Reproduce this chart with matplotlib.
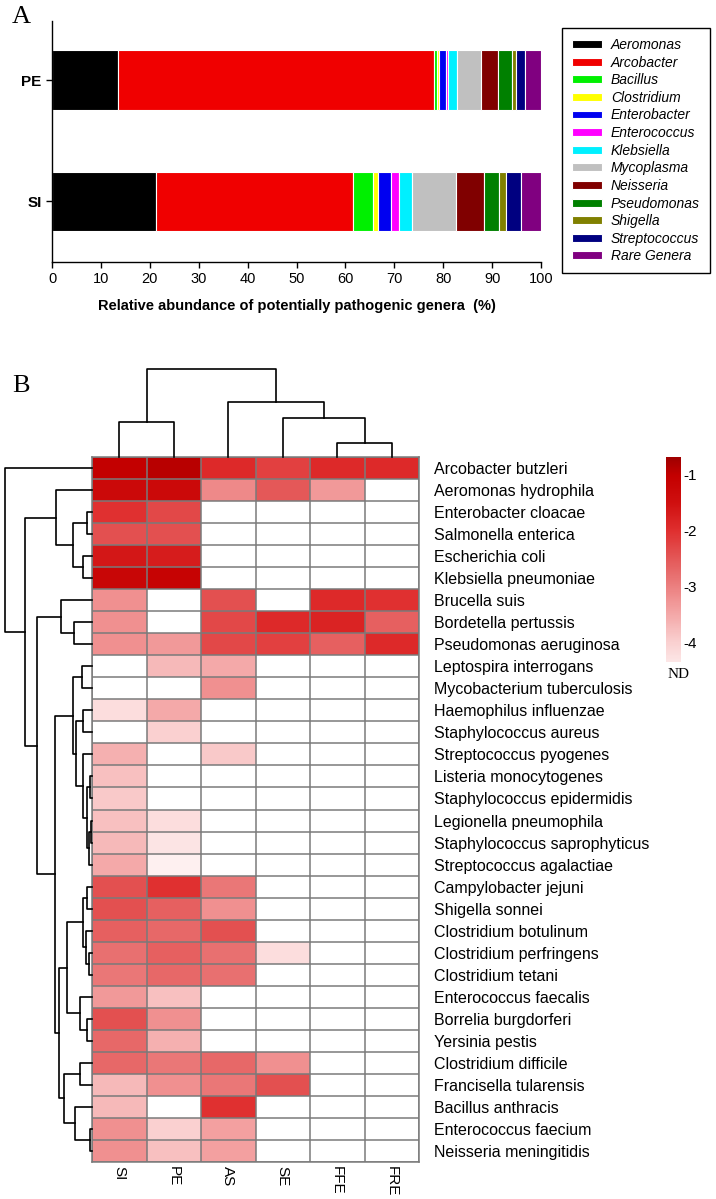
import numpy as np
import matplotlib
matplotlib.use('Agg')
import matplotlib.pyplot as plt
from matplotlib.colors import LinearSegmentedColormap, Normalize

plt.rcParams['font.family'] = ['Liberation Sans', 'DejaVu Sans']

W, H = 716, 1199

# ---------------- panel A data ----------------
genera = ['Aeromonas', 'Arcobacter', 'Bacillus', 'Clostridium', 'Enterobacter',
          'Enterococcus', 'Klebsiella', 'Mycoplasma', 'Neisseria', 'Pseudomonas',
          'Shigella', 'Streptococcus', 'Rare Genera']
pe_pct = [13.4, 64.8, 0.5, 0.4, 1.5, 0.3, 2.0, 4.9, 3.5, 2.7, 0.8, 2.0, 3.2]
si_pct = [21.3, 40.3, 4.0, 1.0, 2.7, 1.6, 2.8, 9.0, 5.6, 3.1, 1.5, 3.0, 4.1]
genus_colors = ['#000000', '#F00000', '#00F000', '#FFFF00', '#0000F0', '#FF00FF',
                '#00F0FF', '#C0C0C0', '#800000', '#008000', '#808000', '#000080',
                '#800080']

# ---------------- panel B data ----------------
samples = ['SI', 'PE', 'AS', 'SE', 'FFE', 'FRE']
species = ['Arcobacter butzleri', 'Aeromonas hydrophila', 'Enterobacter cloacae',
           'Salmonella enterica', 'Escherichia coli', 'Klebsiella pneumoniae',
           'Brucella suis', 'Bordetella pertussis', 'Pseudomonas aeruginosa',
           'Leptospira interrogans', 'Mycobacterium tuberculosis',
           'Haemophilus influenzae', 'Staphylococcus aureus', 'Streptococcus pyogenes',
           'Listeria monocytogenes', 'Staphylococcus epidermidis',
           'Legionella pneumophila', 'Staphylococcus saprophyticus',
           'Streptococcus agalactiae', 'Campylobacter jejuni', 'Shigella sonnei',
           'Clostridium botulinum', 'Clostridium perfringens', 'Clostridium tetani',
           'Enterococcus faecalis', 'Borrelia burgdorferi', 'Yersinia pestis',
           'Clostridium difficile', 'Francisella tularensis', 'Bacillus anthracis',
           'Enterococcus faecium', 'Neisseria meningitidis']

ND = np.nan
# log10 relative abundance per sample (ND = not detected)
si_log = [-1.0, -1.3, -2.0, -2.4, -1.6, -1.2, -3.2, -3.2, -3.2, ND, ND, -4.2, ND, -3.6,
          -3.8, -3.9, -3.8, -3.7, -3.5, -2.4, -2.4, -2.6, -2.8, -2.9, -3.3, -2.4, -2.7,
          -2.7, -3.7, -3.7, -3.2, -3.2]
pe_log = [-0.9, -1.3, -2.3, -2.4, -1.7, -1.1, ND, ND, -3.3, -3.7, ND, -3.5, -4.0, ND,
          ND, ND, -4.2, -4.3, -4.5, -2.0, -2.6, -2.7, -2.6, -2.7, -3.8, -3.2, -3.6,
          -2.9, -3.2, ND, -4.0, -3.8]
as_log = [-1.9, -3.1, ND, ND, ND, ND, -2.4, -2.3, -2.3, -3.5, -3.2, ND, ND, -3.9,
          ND, ND, ND, ND, ND, -2.9, -3.2, -2.4, -2.8, -2.8, ND, ND, ND,
          -2.7, -2.9, -2.0, -3.4, -3.4]
se_log = [-2.2, -2.5, ND, ND, ND, ND, ND, -1.9, -2.2, ND, ND, ND, ND, ND,
          ND, ND, ND, ND, ND, ND, ND, ND, -4.2, ND, ND, ND, ND,
          -3.2, -2.4, ND, ND, ND]
ffe_log = [-1.9, -3.3, ND, ND, ND, ND, -1.9, -1.8, -2.6] + [ND] * 23
fre_log = [-1.9, ND, ND, ND, ND, ND, -2.0, -2.6, -1.9] + [ND] * 23

# dendrogram merges: (left, right, height); ids >= n are earlier merges
col_merges = [(4, 5, 14), (3, 6, 39), (2, 7, 55), (0, 1, 35), (9, 8, 88)]
row_merges = [(2, 3, 5), (4, 5, 9), (32, 33, 19), (1, 34, 36),
              (7, 8, 18), (6, 36, 31),
              (9, 10, 10), (11, 12, 9), (14, 15, 2), (16, 17, 1.5), (41, 18, 3),
              (40, 42, 5), (13, 43, 9), (39, 44, 16), (38, 45, 19),
              (19, 20, 4.7), (22, 23, 3), (21, 48, 6), (47, 49, 8.7), (25, 26, 4.7),
              (24, 51, 12), (50, 52, 25.3), (27, 28, 12), (30, 31, 2), (29, 55, 17),
              (54, 56, 27.7), (53, 57, 32.7), (46, 58, 37), (37, 59, 55),
              (35, 60, 67), (0, 61, 87)]


def box(x0, y0, x1, y1):
    return [x0 / W, 1 - y1 / H, (x1 - x0) / W, (y1 - y0) / H]


def draw_dendro(ax, merges, n, sideways=False):
    pos = {i: i + 0.5 for i in range(n)}
    hgt = {i: 0.0 for i in range(n)}
    for k, (a, b, h) in enumerate(merges):
        xs = [pos[a], pos[a], pos[b], pos[b]]
        ys = [hgt[a], h, h, hgt[b]]
        if sideways:
            xs, ys = ys, xs
        ax.plot(xs, ys, color='black', lw=1.2, clip_on=False)
        pos[n + k] = (pos[a] + pos[b]) / 2
        hgt[n + k] = h


fig = plt.figure(figsize=(W / 100, H / 100), dpi=100)

# ---------------- A: stacked bars ----------------
axA = fig.add_axes(box(52, 20.7, 541, 262))
left_pe, left_si = 0.0, 0.0
for name, pe, si, c in zip(genera, pe_pct, si_pct, genus_colors):
    axA.barh([1, 0], [pe, si], left=[left_pe, left_si], height=0.49, color=c,
             edgecolor='white', linewidth=0.8, label=name)
    left_pe += pe
    left_si += si
axA.set_xlim(0, 100)
axA.set_ylim(-0.5, 1.49)
axA.set_xticks(range(0, 101, 10))
axA.set_yticks([1, 0])
axA.set_yticklabels(['PE', 'SI'], fontweight='bold', fontsize=11)
axA.tick_params(axis='x', labelsize=10.5, length=4, width=1)
axA.tick_params(axis='y', length=4, width=1)
for s in ['top', 'right']:
    axA.spines[s].set_visible(False)
for s in ['left', 'bottom']:
    axA.spines[s].set_linewidth(1)
axA.set_xlabel('Relative abundance of potentially pathogenic genera  (%)',
               fontweight='bold', fontsize=10.5, labelpad=9)
leg = axA.legend(loc='upper left', bbox_to_anchor=(562 / W, 1 - 28 / H),
                 bbox_transform=fig.transFigure, borderaxespad=0,
                 prop={'style': 'italic', 'size': 10}, fancybox=False,
                 edgecolor='black', framealpha=1, handlelength=2.15,
                 handleheight=0.5, labelspacing=0.26, borderpad=0.72,
                 handletextpad=0.65)
leg.get_frame().set_linewidth(1)

fig.text(12 / W, 1 - 6 / H, 'A', family='Liberation Serif', fontsize=19, va='top')
fig.text(12 / W, 1 - 375 / H, 'B', family='Liberation Serif', fontsize=19, va='top')

# ---------------- B: heatmap ----------------
vmin, vmax = -4.6, -0.68
stops = [(-4.6, '#FFF6F6'), (-4.5, '#FEF0F0'), (-4.0, '#FAD0D0'), (-3.6, '#F5B0B0'),
         (-3.2, '#F09090'), (-2.8, '#E87070'), (-2.4, '#E35050'), (-2.0, '#E03030'),
         (-1.5, '#D01010'), (-1.0, '#C40000'), (-0.68, '#A00000')]
cmap = LinearSegmentedColormap.from_list(
    'reds', [((v - vmin) / (vmax - vmin), c) for v, c in stops])
cmap.set_bad('white')
norm = Normalize(vmin, vmax)

mat = np.array([si_log, pe_log, as_log, se_log, ffe_log, fre_log], dtype=float).T
n_rows, n_cols = mat.shape

axH = fig.add_axes(box(92, 457.3, 419, 1161.7))
axH.pcolormesh(np.arange(n_cols + 1), np.arange(n_rows + 1),
               np.ma.masked_invalid(mat), cmap=cmap, norm=norm)
axH.hlines(np.arange(n_rows + 1), 0, n_cols, color='#7a7a7a', lw=1.1)
axH.vlines(np.arange(n_cols + 1), 0, n_rows, color='#7a7a7a', lw=1.1)
axH.set_xlim(0, n_cols)
axH.set_ylim(n_rows, 0)
for s in axH.spines.values():
    s.set_color('#7a7a7a')
    s.set_linewidth(1.1)
axH.yaxis.tick_right()
axH.set_yticks(np.arange(n_rows) + 0.5)
axH.set_yticklabels(species, fontsize=11.5)
axH.set_xticks(np.arange(n_cols) + 0.5)
axH.set_xticklabels(samples, rotation=270, fontsize=11)
axH.tick_params(axis='y', length=0, pad=11)
axH.tick_params(axis='x', length=0, pad=3)

axD1 = fig.add_axes(box(92, 365, 419, 457.3))
draw_dendro(axD1, col_merges, n_cols)
axD1.set_xlim(0, n_cols)
axD1.set_ylim(0, 92)
axD1.axis('off')

axD2 = fig.add_axes(box(0, 457.3, 92, 1161.7))
draw_dendro(axD2, row_merges, n_rows, sideways=True)
axD2.set_ylim(n_rows, 0)
axD2.set_xlim(92, 0)
axD2.axis('off')

# colour key
cb_lo = -4.35
axC = fig.add_axes(box(666, 457, 681, 662))
grad = np.linspace(cb_lo, vmax, 256).reshape(-1, 1)
axC.imshow(grad, extent=[0, 1, cb_lo, vmax], origin='lower', aspect='auto',
           cmap=cmap, norm=norm)
axC.set_xticks([])
axC.yaxis.tick_right()
axC.set_yticks([-1, -2, -3, -4])
axC.set_yticklabels(['-1', '-2', '-3', '-4'], fontsize=11)
axC.tick_params(axis='y', length=0, pad=2)
for s in axC.spines.values():
    s.set_visible(False)
fig.text(668 / W, 1 - 668 / H, 'ND', family='Liberation Serif', fontsize=11, va='top')

fig.savefig('out.png', dpi=100)
